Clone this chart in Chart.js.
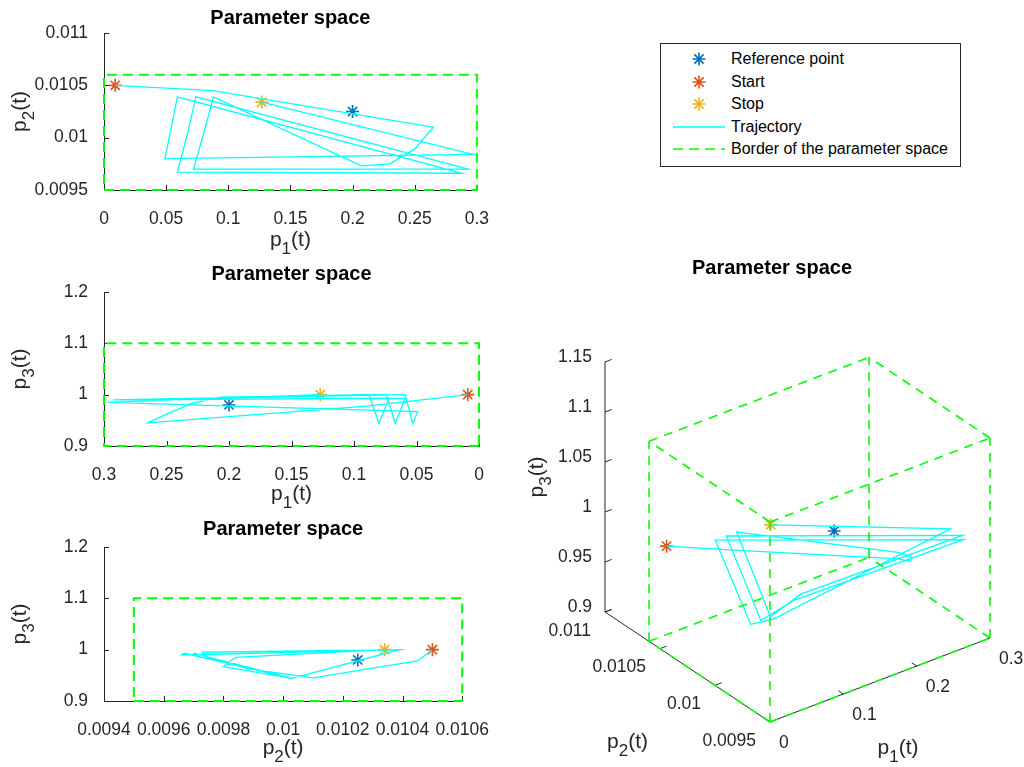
<!DOCTYPE html>
<html>
<head>
<meta charset="utf-8">
<script src="https://cdn.jsdelivr.net/npm/chart.js@4.4.1/dist/chart.umd.min.js"></script>
<style>
  body { margin: 0; width: 1024px; height: 767px; background: #fff; position: relative; overflow: hidden;
         font-family: 'Liberation Sans', Arial, sans-serif; }
  canvas { position: absolute; }
  #legend { position: absolute; left: 660px; top: 43px; width: 301px; height: 124px; border: 1px solid #262626;
            background: #fff; box-sizing: border-box; }
  #legend .row { position: absolute; left: 0; height: 22px; width: 100%; }
  #legend svg { position: absolute; left: 11px; top: 0; }
  #legend span { position: absolute; left: 70px; top: 0; line-height: 22px; font-size: 16px; color: #000; white-space: nowrap; }
</style>
</head>
<body>
<canvas id="p12" width="500" height="255" style="left:0;top:0"></canvas>
<canvas id="p13" width="500" height="255" style="left:0;top:255px"></canvas>
<canvas id="p23" width="500" height="257" style="left:0;top:510px"></canvas>
<canvas id="p3d" width="504" height="517" style="left:520px;top:250px"></canvas>
<div id="legend"></div>
<script>
// Optimiser path through (p1, p2, p3), first sample = start, last = stop.
const trajP1 = [0.009, 0.0875, 0.265, 0.25, 0.23, 0.207, 0.088, 0.080, 0.072, 0.293, 0.074, 0.067, 0.059, 0.288, 0.059, 0.053, 0.049, 0.297, 0.127];
const trajP2 = [0.0105, 0.01045, 0.0101, 0.00989, 0.00975, 0.00973, 0.01039, 0.01003, 0.0097, 0.0097, 0.01039, 0.01003, 0.00967, 0.00966, 0.01039, 0.01003, 0.0098, 0.00984, 0.01034];
const trajP3 = [1.0, 0.978, 0.945, 0.962, 0.983, 0.995, 1.0, 0.944, 0.993, 0.99, 1.0, 0.944, 0.993, 0.99, 1.0, 0.944, 0.967, 0.985, 1.0];

const refPoint = [0.2, 0.01025, 0.98];
const startPoint = [trajP1[0], trajP2[0], trajP3[0]];
const stopPoint = [trajP1[trajP1.length - 1], trajP2[trajP2.length - 1], trajP3[trajP3.length - 1]];

// admissible box
const borderP1 = [0, 0.3];
const borderP2 = [0.0095, 0.0106];
const borderP3 = [0.9, 1.1];

const ticksP1 = [0, 0.05, 0.1, 0.15, 0.2, 0.25, 0.3];
const ticksP2 = [0.0095, 0.01, 0.0105, 0.011];
const ticksP2Fine = [0.0094, 0.0096, 0.0098, 0.01, 0.0102, 0.0104, 0.0106];
const ticksP3 = [0.9, 1, 1.1, 1.2];
const ticks3dP1 = [0, 0.1, 0.2, 0.3];
const ticks3dP2 = [0.0095, 0.01, 0.0105, 0.011];
const ticks3dP3 = [0.9, 0.95, 1, 1.05, 1.1, 1.15];

const BLUE = '#0072BD', ORANGE = '#D95319', YELLOW = '#EDB120', CYAN = '#00FFFF', GREEN = '#00FF00';
const AXIS = '#262626';
const FONT = "'Liberation Sans', Arial, sans-serif";
const TICK_SIZE = 17.5, LABEL_SIZE = 21, TITLE_SIZE = 20;

const traj = [trajP1, trajP2, trajP3];
const borders = [borderP1, borderP2, borderP3];
const subNames = ['1', '2', '3'];

// "p_k(t)" with a lowered, smaller index
function drawSubLabel(ctx, sub, cx, cy, size, angle) {
  ctx.save();
  ctx.translate(cx, cy);
  ctx.rotate(angle || 0);
  const main = `${size}px ${FONT}`;
  const small = `${Math.round(size * 0.8)}px ${FONT}`;
  ctx.font = main;
  const wp = ctx.measureText('p').width, wt = ctx.measureText('(t)').width;
  ctx.font = small;
  const ws = ctx.measureText(sub).width;
  let x = -(wp + ws + wt) / 2;
  const base = size * 0.3;
  ctx.fillStyle = AXIS;
  ctx.textAlign = 'left';
  ctx.textBaseline = 'alphabetic';
  ctx.font = main; ctx.fillText('p', x, base); x += wp;
  ctx.font = small; ctx.fillText(sub, x, base + size * 0.38); x += ws;
  ctx.font = main; ctx.fillText('(t)', x, base);
  ctx.restore();
}

// MATLAB-style axes: ticks point into the plot, drawn under the data
const inwardTicks = {
  id: 'inwardTicks',
  beforeDatasetsDraw(chart) {
    const { ctx, chartArea: a, scales: { x, y } } = chart;
    ctx.save();
    ctx.strokeStyle = AXIS;
    ctx.lineWidth = 1;
    ctx.beginPath();
    x.ticks.forEach((t) => {
      const px = Math.round(x.getPixelForValue(t.value)) + 0.5;
      ctx.moveTo(px, a.bottom); ctx.lineTo(px, a.bottom - 5);
    });
    y.ticks.forEach((t) => {
      const py = Math.round(y.getPixelForValue(t.value)) + 0.5;
      ctx.moveTo(a.left, py); ctx.lineTo(a.left + 5, py);
    });
    ctx.stroke();
    ctx.restore();
  },
  afterDraw(chart, args, opts) {
    const { ctx, chartArea: a } = chart;
    drawSubLabel(ctx, opts.xSub, (a.left + a.right) / 2, a.bottom + opts.xGap, LABEL_SIZE, 0);
    drawSubLabel(ctx, opts.ySub, a.left - opts.yGap, (a.top + a.bottom) / 2, LABEL_SIZE, -Math.PI / 2);
  },
};

function starSet(label, data, color, order) {
  return {
    label, data, order, showLine: false,
    pointStyle: 'star', pointRadius: 6.5, pointBorderWidth: 1.6,
    borderColor: color, backgroundColor: color, clip: false,
  };
}

function planeChart(id, cfg) {
  const [i, j] = cfg.dims;
  const xy = (p) => ({ x: p[i], y: p[j] });
  const bi = borders[i], bj = borders[j];
  const rect = [[bi[0], bj[0]], [bi[1], bj[0]], [bi[1], bj[1]], [bi[0], bj[1]], [bi[0], bj[0]]]
    .map(([x, y]) => ({ x, y }));
  const path = traj[i].map((v, k) => ({ x: v, y: traj[j][k] }));
  const tickFont = { family: FONT, size: TICK_SIZE };

  return new Chart(document.getElementById(id), {
    type: 'scatter',
    data: {
      datasets: [
        { label: 'Border of the parameter space', data: rect, showLine: true, borderColor: GREEN,
          borderWidth: 2, borderDash: [10, 6], pointRadius: 0, order: 0, clip: false },
        { label: 'Trajectory', data: path, showLine: true, borderColor: CYAN, borderWidth: 1.3,
          pointRadius: 0, order: 1 },
        starSet('Stop', [xy(stopPoint)], YELLOW, 2),
        starSet('Start', [xy(startPoint)], ORANGE, 3),
        starSet('Reference point', [xy(refPoint)], BLUE, 4),
      ],
    },
    options: {
      responsive: false,
      animation: false,
      events: [],
      layout: { autoPadding: false, padding: { left: 0, right: cfg.padRight, top: 0, bottom: 0 } },
      plugins: {
        legend: { display: false },
        tooltip: { enabled: false },
        title: {
          display: true, fullSize: false, text: 'Parameter space', color: '#000',
          font: { family: FONT, size: TITLE_SIZE, weight: 'bold' },
          padding: { top: cfg.titleTop, bottom: cfg.titleBottom },
        },
        inwardTicks: { xSub: subNames[i], ySub: subNames[j], xGap: cfg.xGap, yGap: 84 },
      },
      scales: {
        x: {
          type: 'linear', min: cfg.xRange[0], max: cfg.xRange[1], reverse: !!cfg.reverseX,
          grid: { display: false }, border: { display: true, color: AXIS, width: 1 },
          ticks: { font: tickFont, color: AXIS, padding: 11, autoSkip: false, maxRotation: 0, callback: (v) => String(v) },
          afterBuildTicks: (s) => { s.ticks = cfg.xTicks.map((value) => ({ value })); },
          afterFit: (s) => { s.height = cfg.xAxisHeight; },
        },
        y: {
          type: 'linear', min: cfg.yRange[0], max: cfg.yRange[1],
          grid: { display: false }, border: { display: true, color: AXIS, width: 1 },
          ticks: { font: tickFont, color: AXIS, padding: 8, autoSkip: false, callback: (v) => String(v) },
          afterBuildTicks: (s) => { s.ticks = cfg.yTicks.map((value) => ({ value })); },
          afterFit: (s) => { s.width = 104; },
        },
      },
    },
    plugins: [inwardTicks],
  });
}

// title block = padding.top + 24 (line) + padding.bottom
planeChart('p12', {
  dims: [0, 1], xRange: [0, 0.3], yRange: [0.0095, 0.011], xTicks: ticksP1, yTicks: ticksP2,
  padRight: 21, titleTop: 6, titleBottom: 3, xAxisHeight: 65, xGap: 50,
});
planeChart('p13', {
  dims: [0, 2], xRange: [0, 0.3], yRange: [0.9, 1.2], xTicks: ticksP1, yTicks: ticksP3, reverseX: true,
  padRight: 21, titleTop: 7, titleBottom: 6, xAxisHeight: 64, xGap: 48,
});
planeChart('p23', {
  dims: [1, 2], xRange: [0.0094, 0.0106], yRange: [0.9, 1.2], xTicks: ticksP2Fine, yTicks: ticksP3,
  padRight: 22, titleTop: 7, titleBottom: 6, xAxisHeight: 66, xGap: 47,
});

// ---- 3-D view: orthographic projection onto a plain scatter chart ----
const lim3d = [
  [ticks3dP1[0], ticks3dP1[ticks3dP1.length - 1]],
  [ticks3dP2[0], ticks3dP2[ticks3dP2.length - 1]],
  [ticks3dP3[0], ticks3dP3[ticks3dP3.length - 1]],
];
// on-screen length/direction of each full axis for the chosen view
const AXIS_DIR = [[220, 84], [-165, 110], [0, 250]];

function project(p) {
  let x = 0, y = 0;
  for (let k = 0; k < 3; k++) {
    const n = (p[k] - lim3d[k][0]) / (lim3d[k][1] - lim3d[k][0]);
    x += AXIS_DIR[k][0] * n;
    y += AXIS_DIR[k][1] * n;
  }
  return { x, y };
}

const GAP = { x: NaN, y: NaN };
function segments(list) {
  const out = [];
  list.forEach(([a, b], k) => {
    if (k) out.push(GAP);
    out.push(project(a), project(b));
  });
  return out;
}

const boxEdges = [];
for (const a of borderP2) for (const b of borderP3) boxEdges.push([[borderP1[0], a, b], [borderP1[1], a, b]]);
for (const a of borderP1) for (const b of borderP3) boxEdges.push([[a, borderP2[0], b], [a, borderP2[1], b]]);
for (const a of borderP1) for (const b of borderP2) boxEdges.push([[a, b, borderP3[0]], [a, b, borderP3[1]]]);

const lo = lim3d.map((l) => l[0]), hi = lim3d.map((l) => l[1]);
const axisLines = [
  [[lo[0], lo[1], lo[2]], [hi[0], lo[1], lo[2]]],
  [[lo[0], hi[1], lo[2]], [lo[0], lo[1], lo[2]]],
  [[lo[0], hi[1], lo[2]], [lo[0], hi[1], hi[2]]],
];

const axes3d = {
  id: 'axes3d',
  beforeDatasetsDraw(chart) {
    const { ctx, scales: { x, y } } = chart;
    const px = (p) => { const q = project(p); return [x.getPixelForValue(q.x), y.getPixelForValue(q.y)]; };
    ctx.save();
    ctx.strokeStyle = AXIS;
    ctx.lineWidth = 1;
    ctx.beginPath();
    const span = 0.03;
    ticks3dP1.forEach((v) => {
      const [a, b] = px([v, lo[1], lo[2]]), [c, d] = px([v, lo[1] + span * (hi[1] - lo[1]), lo[2]]);
      ctx.moveTo(a, b); ctx.lineTo(c, d);
    });
    ticks3dP2.forEach((v) => {
      const [a, b] = px([lo[0], v, lo[2]]), [c, d] = px([lo[0] + span * (hi[0] - lo[0]), v, lo[2]]);
      ctx.moveTo(a, b); ctx.lineTo(c, d);
    });
    ticks3dP3.forEach((v) => {
      const [a, b] = px([lo[0], hi[1], v]), [c, d] = px([lo[0] + span * (hi[0] - lo[0]), hi[1], v]);
      ctx.moveTo(a, b); ctx.lineTo(c, d);
    });
    ctx.stroke();

    ctx.fillStyle = AXIS;
    ctx.font = `${TICK_SIZE}px ${FONT}`;
    ctx.textBaseline = 'middle';
    ctx.textAlign = 'left';
    ticks3dP1.forEach((v) => { const [a, b] = px([v, lo[1], lo[2]]); ctx.fillText(String(v), a + 9, b + 21); });
    ctx.textAlign = 'right';
    ticks3dP2.forEach((v) => { const [a, b] = px([lo[0], v, lo[2]]); ctx.fillText(String(v), a - 14, b + 19); });
    ticks3dP3.forEach((v) => { const [a, b] = px([lo[0], hi[1], v]); ctx.fillText(String(v), a - 13, b - 5); });
    ctx.restore();

    const [m1x, m1y] = px([(lo[0] + hi[0]) / 2, lo[1], lo[2]]);
    drawSubLabel(ctx, '1', m1x + 18, m1y + 68, LABEL_SIZE, 0);
    const [m2x, m2y] = px([lo[0], (lo[1] + hi[1]) / 2, lo[2]]);
    drawSubLabel(ctx, '2', m2x - 60, m2y + 75, LABEL_SIZE, 0);
    const [m3x, m3y] = px([lo[0], hi[1], (lo[2] + hi[2]) / 2]);
    drawSubLabel(ctx, '3', m3x - 68, m3y - 10, LABEL_SIZE, -Math.PI / 2);
  },
};

new Chart(document.getElementById('p3d'), {
  type: 'scatter',
  data: {
    datasets: [
      { label: 'Border of the parameter space', data: segments(boxEdges), showLine: true, spanGaps: false,
        borderColor: GREEN, borderWidth: 1.6, borderDash: [9, 7], pointRadius: 0, order: 0, clip: false },
      { label: 'Trajectory', data: trajP1.map((v, k) => project([v, trajP2[k], trajP3[k]])), showLine: true,
        borderColor: CYAN, borderWidth: 1.3, pointRadius: 0, order: 1, clip: false },
      starSet('Stop', [project(stopPoint)], YELLOW, 2),
      starSet('Start', [project(startPoint)], ORANGE, 3),
      starSet('Reference point', [project(refPoint)], BLUE, 4),
      { label: 'axes', data: segments(axisLines), showLine: true, spanGaps: false, borderColor: AXIS,
        borderWidth: 1, pointRadius: 0, order: 9, clip: false },
    ],
  },
  options: {
    responsive: false,
    animation: false,
    events: [],
    layout: { autoPadding: false, padding: 0 },
    plugins: {
      legend: { display: false },
      tooltip: { enabled: false },
      title: {
        display: true, text: 'Parameter space', color: '#000',
        font: { family: FONT, size: TITLE_SIZE, weight: 'bold' },
        padding: { top: 6, bottom: 0 },
      },
    },
    scales: {
      x: { type: 'linear', display: false, min: -250, max: 254 },
      y: { type: 'linear', display: false, min: -45, max: 442 },
    },
  },
  plugins: [axes3d],
});

// ---- legend ----
const legendItems = [
  { text: 'Reference point', color: BLUE, kind: 'star' },
  { text: 'Start', color: ORANGE, kind: 'star' },
  { text: 'Stop', color: YELLOW, kind: 'star' },
  { text: 'Trajectory', color: CYAN, kind: 'line' },
  { text: 'Border of the parameter space', color: GREEN, kind: 'dash' },
];
const legend = document.getElementById('legend');
legendItems.forEach((item, k) => {
  const row = document.createElement('div');
  row.className = 'row';
  row.style.top = (4 + k * 22.5) + 'px';
  let icon;
  if (item.kind === 'star') {
    const r = 6.5, d = r * Math.SQRT1_2;
    icon = `<path d="M${27 - r} 11H${27 + r}M27 ${11 - r}V${11 + r}M${27 - d} ${11 - d}L${27 + d} ${11 + d}M${27 - d} ${11 + d}L${27 + d} ${11 - d}" stroke="${item.color}" stroke-width="1.6"/>`;
  } else {
    const dash = item.kind === 'dash' ? ' stroke-dasharray="10 6"' : '';
    icon = `<line x1="1" y1="11" x2="53" y2="11" stroke="${item.color}" stroke-width="${item.kind === 'dash' ? 1.6 : 1.3}"${dash}/>`;
  }
  row.innerHTML = `<svg width="56" height="22">${icon}</svg><span>${item.text}</span>`;
  legend.appendChild(row);
});
</script>
</body>
</html>
